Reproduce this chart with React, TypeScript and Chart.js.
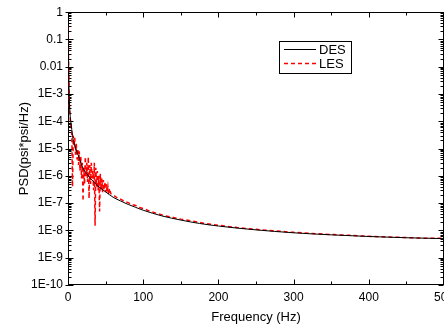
import React, { useEffect, useRef } from "react";
import { Chart, registerables } from "chart.js";

Chart.register(...registerables);

// DES (smooth) spectrum
const desFreq = [0, 0.3, 0.6, 1, 1.5, 2, 3, 4, 5, 6, 8, 10, 12, 15, 20, 25, 30, 40, 50, 60, 70, 80, 90, 100, 125, 150, 175, 200, 250, 300, 350, 400, 450, 500];
const desPsd = [1, 0.2, 0.03, 5e-3, 1e-3, 4e-4, 1.5e-4, 8.5e-5, 5e-5, 3e-5, 1.6e-5, 1.05e-5, 7.5e-6, 4.5e-6, 1.9e-6, 1.2e-6, 8e-7, 4.2e-7, 2.6e-7, 1.65e-7, 1.2e-7, 9e-8, 7e-8, 5.5e-8, 3.4e-8, 2.4e-8, 1.8e-8, 1.45e-8, 1.05e-8, 8.2e-9, 6.9e-9, 6e-9, 5.4e-9, 5e-9];

// LES (noisy) spectrum
const lesFreq = [0, 0.5, 1, 1.5, 2, 3, 4, 5, 6, 7, 8, 9, 10, 11, 12, 13, 14, 15, 16, 17, 18, 19, 20, 21, 22, 23, 24, 25, 26, 27, 28, 29, 30, 31, 32, 33, 34, 35, 36, 37, 38, 39, 40, 41, 42, 43, 44, 45, 46, 47, 48, 49, 50, 51, 52, 53, 54, 55, 57, 60, 63, 66, 70, 75, 80, 85, 90, 95, 100, 110, 120, 130, 140, 150, 165, 180, 200, 225, 250, 275, 300, 325, 350, 375, 400, 425, 450, 475, 500];
const lesPsd = [0.3, 0.05, 5e-3, 8e-4, 3e-4, 1.2e-4, 7e-5, 5e-5, 4e-7, 3e-5, 1.2e-5, 2.5e-5, 6e-6, 1.5e-5, 4e-6, 1e-5, 2.5e-6, 8e-6, 1.5e-6, 5e-6, 8e-7, 3e-6, 1.2e-7, 2e-6, 5e-7, 5e-6, 1e-6, 3e-6, 6e-7, 5e-6, 1.5e-7, 2.5e-6, 5e-7, 3e-6, 8e-7, 1.5e-6, 3e-7, 3e-6, 1.5e-8, 2e-6, 4e-7, 1.5e-6, 3e-7, 1e-6, 5e-8, 1.2e-6, 3e-7, 8e-7, 2.5e-7, 7e-7, 3e-7, 6e-7, 2.5e-7, 5e-7, 2.5e-7, 4e-7, 2e-7, 3.5e-7, 2.2e-7, 2.0e-7, 1.75e-7, 1.5e-7, 1.4e-7, 1.15e-7, 1.05e-7, 8.8e-8, 8.2e-8, 6.9e-8, 6.4e-8, 4.9e-8, 4.1e-8, 3.4e-8, 3.0e-8, 2.6e-8, 2.2e-8, 1.85e-8, 1.55e-8, 1.27e-8, 1.1e-8, 9.6e-9, 8.5e-9, 7.7e-9, 7.1e-9, 6.6e-9, 6.1e-9, 5.7e-9, 5.5e-9, 5.2e-9, 5.2e-9];

const seriesLabels = ["DES", "LES"];
const seriesColors = ["#000000", "#ff0000"];
const xMin = 0;
const xMax = 500;
const xStep = 50;
const yMinExp = -10;
const yMaxExp = 0;

const FONT = "'Liberation Sans', Arial, sans-serif";

function isPow10(v: number) {
  const e = Math.round(Math.log10(v));
  return Math.abs(v - Math.pow(10, e)) / Math.pow(10, e) < 1e-6;
}

function logTickLabel(v: number) {
  if (!isPow10(v)) return "";
  const e = Math.round(Math.log10(v));
  if (e === 0) return "1";
  if (e === -1) return "0.1";
  if (e === -2) return "0.01";
  return "1E" + e;
}

function buildLogTicks() {
  const arr: { value: number }[] = [];
  for (let e = yMinExp; e <= yMaxExp; e++) {
    for (let k = 1; k <= 9; k++) {
      if (e === yMaxExp && k > 1) break;
      arr.push({ value: k * Math.pow(10, e) });
    }
  }
  return arr;
}

const framePlugin = {
  id: "frameTicksLegend",
  beforeDatasetsDraw(chart: any) {
    const { ctx, chartArea: a, scales } = chart;
    const xs = scales.x;
    const ys = scales.y;
    ctx.save();
    ctx.strokeStyle = "#000";
    ctx.lineWidth = 1;
    ctx.setLineDash([]);
    const L = Math.round(a.left) + 0.5;
    const R = Math.round(a.right) - 0.5;
    const T = Math.round(a.top) + 0.5;
    const B = Math.round(a.bottom) - 0.5;
    ctx.strokeRect(L, T, R - L, B - T);
    ctx.beginPath();
    ys.ticks.forEach((t: any) => {
      const py = Math.round(ys.getPixelForValue(t.value)) + 0.5;
      const major = isPow10(t.value);
      const len = major ? 5 : 3;
      ctx.moveTo(L - (major ? 3 : 0), py);
      ctx.lineTo(L + len, py);
      ctx.moveTo(R, py);
      ctx.lineTo(R - len, py);
    });
    xs.ticks.forEach((t: any) => {
      const px = Math.round(xs.getPixelForValue(t.value)) + 0.5;
      const major = t.value % 100 === 0;
      const len = major ? 5 : 3;
      ctx.moveTo(px, B);
      ctx.lineTo(px, B - len);
      ctx.moveTo(px, T);
      ctx.lineTo(px, T + len);
    });
    ctx.stroke();
    ctx.restore();
  },
  afterDatasetsDraw(chart: any) {
    const { ctx } = chart;
    ctx.save();
    const bx = 279.5, by = 41.5, bw = 72, bh = 32;
    ctx.fillStyle = "#fff";
    ctx.fillRect(bx, by, bw, bh);
    ctx.strokeStyle = "#000";
    ctx.lineWidth = 1;
    ctx.setLineDash([]);
    ctx.strokeRect(bx, by, bw, bh);
    ctx.font = "13px " + FONT;
    ctx.textBaseline = "middle";
    ctx.textAlign = "left";
    chart.data.datasets.forEach((ds: any, i: number) => {
      const ly = 49.5 + i * 14;
      ctx.beginPath();
      ctx.strokeStyle = seriesColors[i];
      ctx.lineWidth = i === 0 ? 1 : 1.3;
      ctx.setLineDash(i === 0 ? [] : [4, 3]);
      ctx.moveTo(284, ly);
      ctx.lineTo(316, ly);
      ctx.stroke();
      ctx.setLineDash([]);
      ctx.fillStyle = "#000";
      ctx.fillText(ds.label, 319, ly + 0.5);
    });
    ctx.restore();
  },
};

export default function App() {
  const ref = useRef<HTMLCanvasElement | null>(null);
  useEffect(() => {
    if (!ref.current) return;
    const chart = new Chart(ref.current, {
      type: "line",
      data: {
        datasets: [
          {
            label: seriesLabels[0],
            data: desFreq.map((f, i) => ({ x: f, y: desPsd[i] })),
            borderColor: seriesColors[0],
            borderWidth: 1,
            pointRadius: 0,
            cubicInterpolationMode: "monotone",
            fill: false,
          },
          {
            label: seriesLabels[1],
            data: lesFreq.map((f, i) => ({ x: f, y: lesPsd[i] })),
            borderColor: seriesColors[1],
            borderWidth: 1.5,
            borderDash: [4, 3],
            pointRadius: 0,
            tension: 0,
            fill: false,
          },
        ],
      },
      options: {
        responsive: false,
        animation: false,
        layout: { padding: 0 },
        plugins: { legend: { display: false }, tooltip: { enabled: false } },
        scales: {
          x: {
            type: "linear",
            position: "bottom",
            min: xMin,
            max: xMax,
            grid: { display: false, drawTicks: false },
            border: { display: false },
            ticks: {
              stepSize: xStep,
              autoSkip: false,
              maxRotation: 0,
              padding: 5,
              color: "#000",
              font: { family: FONT, size: 12 },
              callback: (v: any) => (Number(v) % 100 === 0 ? String(v) : ""),
            },
            title: {
              display: true,
              text: "Frequency (Hz)",
              color: "#000",
              font: { family: FONT, size: 13 },
              padding: { top: 4, bottom: 6 },
            },
            afterFit: (s: any) => {
              s.height = 46;
            },
          },
          x2: {
            type: "linear",
            position: "top",
            min: xMin,
            max: xMax,
            grid: { display: false, drawTicks: false },
            border: { display: false },
            ticks: { display: false },
            afterFit: (s: any) => {
              s.height = 8;
            },
          },
          y: {
            type: "logarithmic",
            position: "left",
            min: Math.pow(10, yMinExp),
            max: Math.pow(10, yMaxExp),
            grid: { display: false, drawTicks: false },
            border: { display: false },
            afterBuildTicks: (s: any) => {
              s.ticks = buildLogTicks();
            },
            ticks: {
              autoSkip: false,
              padding: 5,
              color: "#000",
              font: { family: FONT, size: 12 },
              callback: (v: any) => logTickLabel(Number(v)),
            },
            title: {
              display: true,
              text: "PSD(psi*psi/Hz)",
              color: "#000",
              font: { family: FONT, size: 13 },
              padding: { top: 17, bottom: 0 },
            },
            afterFit: (s: any) => {
              s.width = 68;
            },
          },
          y2: {
            type: "logarithmic",
            position: "right",
            min: Math.pow(10, yMinExp),
            max: Math.pow(10, yMaxExp),
            grid: { display: false, drawTicks: false },
            border: { display: false },
            ticks: { display: false },
            afterFit: (s: any) => {
              s.width = 26;
            },
          },
        },
      } as any,
      plugins: [framePlugin],
    });
    return () => chart.destroy();
  }, []);

  return (
    <div style={{ position: "absolute", left: 0, top: 0, width: 444, height: 331, overflow: "hidden", background: "#fff" }}>
      <canvas ref={ref} width={470} height={331} style={{ display: "block", width: 470, height: 331 }} />
    </div>
  );
}
